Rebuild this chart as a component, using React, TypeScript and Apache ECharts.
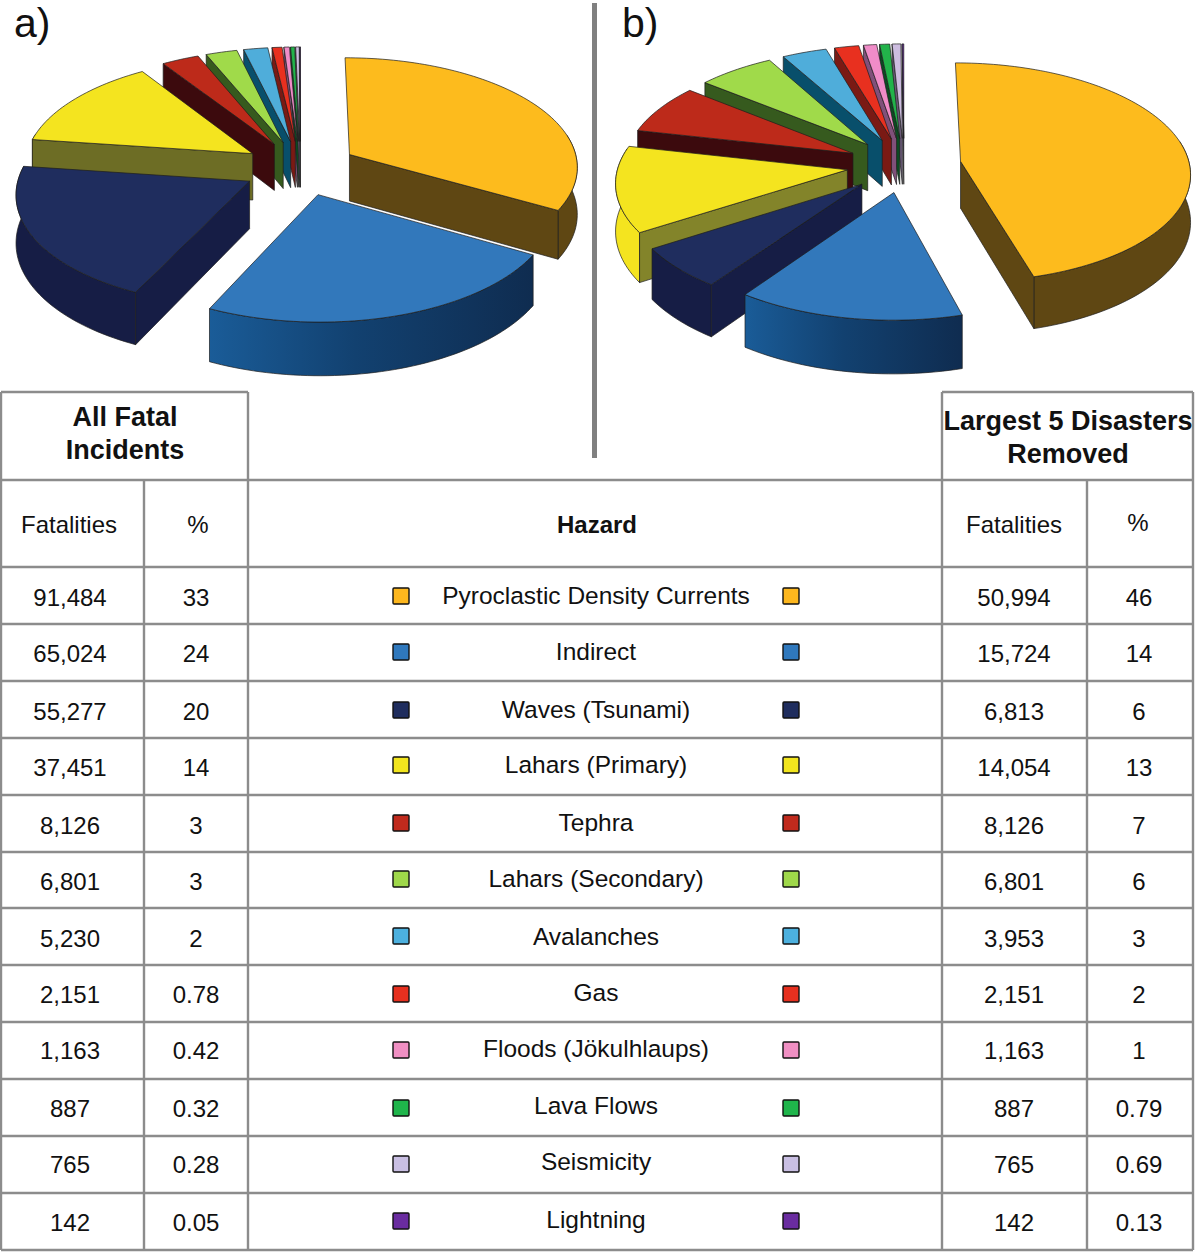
import React, { useEffect, useRef } from "react";
import * as echarts from "echarts";

const hazards = ["Pyroclastic Density Currents", "Indirect", "Waves (Tsunami)", "Lahars (Primary)", "Tephra", "Lahars (Secondary)", "Avalanches", "Gas", "Floods (Jökulhlaups)", "Lava Flows", "Seismicity", "Lightning"];
const fatalitiesAll = [91484, 65024, 55277, 37451, 8126, 6801, 5230, 2151, 1163, 887, 765, 142];
const percentAll = ["33", "24", "20", "14", "3", "3", "2", "0.78", "0.42", "0.32", "0.28", "0.05"];
const fatalitiesReduced = [50994, 15724, 6813, 14054, 8126, 6801, 3953, 2151, 1163, 887, 765, 142];
const percentReduced = ["46", "14", "6", "13", "7", "6", "3", "2", "1", "0.79", "0.69", "0.13"];

const topColors = ["#fdbb1d", "#3278bb", "#1f2d5e", "#f4e41f", "#bd2a1a", "#a0da4a", "#4fadda", "#e8301f", "#f08cc8", "#22b34a", "#cdbde0", "#6a2fa0"];
const sideColorsA = ["#5f4713", "#10406f", "#161d45", "#6d6d25", "#3c0a0d", "#365a1e", "#084f6b", "#7a1a14", "#80507a", "#0c4a22", "#6a5a78", "#201040"];
const sideColorsB = ["#5f4713", "#10406f", "#161d45", "#83842a", "#3c0a0d", "#365a1e", "#084f6b", "#7a1a14", "#80507a", "#0c4a22", "#6a5a78", "#201040"];
const swatchColors = ["#fdb71e", "#2f78bd", "#1f2d5e", "#f2e51e", "#c02a1d", "#9fd84a", "#4cb0de", "#e6301f", "#f08fc3", "#1fb54b", "#c9bfe3", "#6a2ca0"];

// layout
const RX = 229, RY = 109, PERSP = 0.1, EXPLODE = 0.25, DEPTH = 47;
const WALL_FROM = 78, WALL_TO = 282;
const colX = [1, 144, 248, 942, 1087, 1193];
const rowY = [480, 567, 624, 681, 738, 795, 852, 908, 965, 1022, 1079, 1136, 1193, 1250];
const leftY = [597, 653, 711, 767, 825, 881, 938, 994, 1050, 1108, 1164, 1222];
const midY = [595, 651, 709, 764, 822, 878, 936, 992, 1048, 1105, 1161, 1219];
const swatchY = [596, 652, 710, 765, 823, 879, 936, 994, 1050, 1108, 1164, 1221];
const FONT = '"Liberation Sans", Arial, sans-serif';

function makeRender(values: number[], sideColors: string[], cx: number, cy: number) {
  const total = values.reduce((a, b) => a + b, 0);
  const starts: number[] = [];
  values.reduce((acc, v, i) => { starts[i] = acc; return acc + v; }, 0);
  return (params: any, api: any) => {
    const i = params.dataIndex;
    const value = api.value(0);
    const a0 = (starts[i] / total) * 360;
    const a1 = a0 + (value / total) * 360;
    const mid = ((a0 + a1) / 2) * Math.PI / 180;
    const ox = EXPLODE * Math.sin(mid), oy = EXPLODE * Math.cos(mid);
    const proj = (r: number, deg: number) => {
      const t = deg * Math.PI / 180;
      const X = ox + r * Math.sin(t), Y = oy + r * Math.cos(t);
      const s = 1 / (1 + PERSP * Y);
      return { x: cx + RX * X * s, y: cy - RY * Y * s, s };
    };
    const down = (p: any) => [p.x, p.y + DEPTH * p.s];
    const up = (p: any) => [p.x, p.y];
    const n = Math.max(2, Math.ceil((a1 - a0) / 1.5));
    const arc: number[] = [];
    for (let k = 0; k <= n; k++) arc.push(a0 + ((a1 - a0) * k) / n);
    const apex = proj(0, 0);
    const z = Math.round(-oy * 1000) + 2000;
    const edge = { stroke: "#1c1c1c", lineWidth: 0.7, lineJoin: "round" };
    const children: any[] = [];
    const wallAngles = arc.filter((d) => d >= WALL_FROM && d <= WALL_TO);
    if (wallAngles.length > 1) {
      const pts = wallAngles.map((d) => proj(1, d));
      const fill = i === 1
        ? new echarts.graphic.LinearGradient(0, 0, 1, 0, [{ offset: 0, color: "#1a5c98" }, { offset: 0.45, color: "#124170" }, { offset: 1, color: "#0f2c50" }])
        : i === 3 ? topColors[3]
        : sideColors[i];
      children.push({ type: "polygon", z2: z, shape: { points: [...pts.map(up), ...pts.slice().reverse().map(down)] }, style: { fill, ...edge } });
    }
    const radial = (deg: number) => {
      const p = proj(1, deg);
      children.push({ type: "polygon", z2: z + 1, shape: { points: [up(apex), up(p), down(p), down(apex)] }, style: { fill: sideColors[i], ...edge } });
    };
    if (Math.sin((a0 * Math.PI) / 180) < 0) radial(a0);
    if (Math.sin((a1 * Math.PI) / 180) > 0) radial(a1);
    children.push({ type: "polygon", z2: z + 2, shape: { points: [up(apex), ...arc.map((d) => up(proj(1, d)))] }, style: { fill: topColors[i], ...edge } });
    return { type: "group", children };
  };
}

function label(text: string, x: number, y: number, size = 24, bold = false, align = "center") {
  return { type: "text", x, y, z: 5, style: { text, textAlign: align, textVerticalAlign: "middle", verticalAlign: "middle", font: `${bold ? "bold " : ""}${size}px ${FONT}`, fill: "#111" } };
}
function rule(x1: number, y1: number, x2: number, y2: number, color = "#8c8c8c", w = 2.4) {
  return { type: "line", z: 4, shape: { x1, y1, x2, y2 }, style: { stroke: color, lineWidth: w } };
}
function swatch(x: number, y: number, fill: string) {
  return { type: "rect", z: 5, shape: { x: x - 8, y: y - 8, width: 16, height: 16, r: 1 }, style: { fill, stroke: "#111", lineWidth: 1.4 } };
}

function tableGraphics() {
  const g: any[] = [];
  rowY.forEach((y) => g.push(rule(colX[0], y, colX[5], y)));
  [colX[0], colX[2], colX[3], colX[5]].forEach((x) => g.push(rule(x, 392, x, rowY[13])));
  [colX[1], colX[4]].forEach((x) => g.push(rule(x, rowY[0], x, rowY[13])));
  g.push(rule(colX[0], 392, colX[2], 392), rule(colX[3], 392, colX[5], 392));
  g.push(rule(594.5, 3, 594.5, 458, "#808080", 5));
  g.push(label("a)", 14, 23, 41, false, "left"), label("b)", 622, 23, 41, false, "left"));
  g.push(label("All Fatal", 125, 417, 27, true), label("Incidents", 125, 450, 27, true));
  g.push(label("Largest 5 Disasters", 1068, 421, 27, true), label("Removed", 1068, 454, 27, true));
  g.push(label("Fatalities", 69, 524), label("%", 198, 524), label("Hazard", 597, 524, 24, true), label("Fatalities", 1014, 524), label("%", 1138, 522));
  hazards.forEach((h, i) => {
    g.push(label(fatalitiesAll[i].toLocaleString("en-US"), 70, leftY[i]));
    g.push(label(percentAll[i], 196, leftY[i]));
    g.push(swatch(401, swatchY[i], swatchColors[i]), swatch(791, swatchY[i], swatchColors[i]));
    g.push(label(h, 596, midY[i], 24.5));
    g.push(label(fatalitiesReduced[i].toLocaleString("en-US"), 1014, leftY[i]));
    g.push(label(percentReduced[i], 1139, leftY[i]));
  });
  return g;
}

export default function App() {
  const ref = useRef<HTMLDivElement>(null);
  useEffect(() => {
    const chart = echarts.init(ref.current!, undefined, { renderer: "svg" });
    const toData = (vals: number[]) => vals.map((v, i) => ({ name: hazards[i], value: [v] }));
    chart.setOption({
      animation: false,
      backgroundColor: "#fff",
      series: [
        { type: "custom", coordinateSystem: "none", silent: true, clip: false, renderItem: makeRender(fatalitiesAll, sideColorsA, 300.5, 168), data: toData(fatalitiesAll) },
        { type: "custom", coordinateSystem: "none", silent: true, clip: false, renderItem: makeRender(fatalitiesReduced, sideColorsB, 904, 165), data: toData(fatalitiesReduced) },
      ],
      graphic: { elements: tableGraphics() },
    });
    return () => chart.dispose();
  }, []);
  return <div ref={ref} style={{ position: "absolute", left: 0, top: 0, width: 1200, height: 1252 }} />;
}
